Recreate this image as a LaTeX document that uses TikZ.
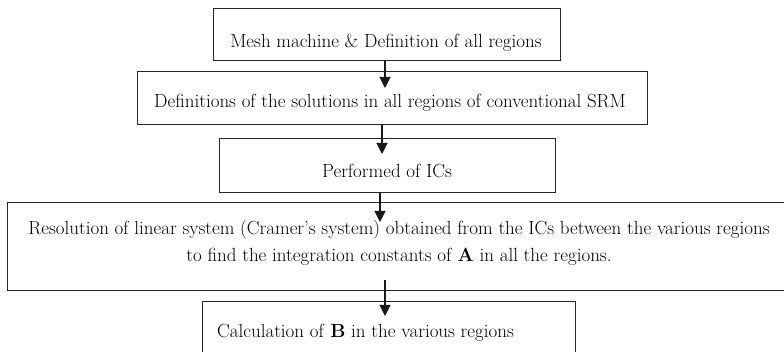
\documentclass[tikz,border=0pt]{standalone}
\usetikzlibrary{arrows.meta}
\begin{document}
\begin{tikzpicture}[x=1pt,y=-1pt,
  boxstyle/.style={draw=black!85,line width=1.1pt,rectangle,inner sep=0pt,anchor=north west},
  txt/.style={inner sep=0pt,font=\fontsize{19}{27}\selectfont,text=black},
  arr/.style={draw=black!90,line width=1.1pt,-{Triangle[width=11pt,length=11pt]}}]
\useasboundingbox (0,0) rectangle (784,352);
% boxes
\node[boxstyle,minimum width=347pt,minimum height=52pt] (b1) at (213,8) {};
\node[boxstyle,minimum width=510pt,minimum height=53pt] (b2) at (137,71) {};
\node[boxstyle,minimum width=336pt,minimum height=54pt] (b3) at (219,138) {};
\node[boxstyle,minimum width=780pt,minimum height=88pt] (b4) at (7,202) {};
\node[boxstyle,minimum width=373pt,minimum height=60pt] (b5) at (202,301) {};
% texts
\node[txt] (t1) at (386,43) {Mesh machine \& Definition of all regions};
\node[txt] (t2) at (390,103) {Definitions of the solutions in all regions of conventional SRM};
\node[txt] (t3) at (387,171) {Performed of ICs};
\node[txt,align=center] (t4) at (399,243) {Resolution of linear system (Cramer's system) obtained from the ICs between the various regions\\to find the integration constants of \textbf{A} in all the regions.};
\node[txt,anchor=west] (t5) at (217,333) {Calculation of \textbf{B} in the various regions};
% arrow ends
\coordinate (e1) at (385,88);
\coordinate (e2) at (382,154);
\coordinate (e3) at (380,222);
\coordinate (e4) at (385,316);
\coordinate (s4) at (385,280);
\draw[arr] (e1 |- b1.south) -- (e1);
\draw[arr] (e2 |- b2.south) -- (e2);
\draw[arr] (e3 |- b3.south) -- (e3);
\draw[arr] (s4) -- (e4);
\end{tikzpicture}
\end{document}
